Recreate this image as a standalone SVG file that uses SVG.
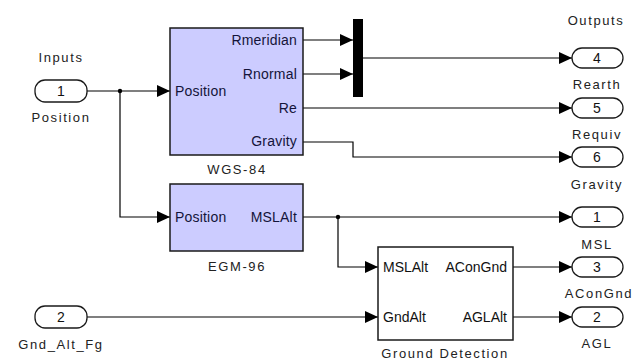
<svg xmlns="http://www.w3.org/2000/svg" width="632" height="363" viewBox="0 0 632 363">
  <style>
    .blk { fill: #ccccff; stroke: #1a1a1a; stroke-width: 1.5; }
    .gd { fill: #ffffff; stroke: #1a1a1a; stroke-width: 1.5; }
    .port { fill: #ffffff; stroke: #1a1a1a; stroke-width: 1.3; }
    .wire { fill: none; stroke: #000; stroke-width: 1.2; }
    .arr { marker-end: url(#head); }
    text { font-family: "Liberation Sans", Arial, sans-serif; font-size: 14px; fill: #111; }
    .in { fill: #14143a; letter-spacing: 0.2px; }
    .num { font-size: 14px; }
    .c { text-anchor: middle; }
    .r { text-anchor: end; }
    .lbl { font-size: 13px; letter-spacing: 1.6px; fill: #222; }
  </style>
  <defs>
    <marker id="head" markerUnits="userSpaceOnUse" markerWidth="14" markerHeight="12" refX="13" refY="6" orient="auto">
      <path d="M0,0 L13,6 L0,12 Z" fill="#000"/>
    </marker>
  </defs>

  <!-- signal lines -->
  <g id="connectors">
    <path class="wire arr" d="M87,91 H170"/>
    <path class="wire arr" d="M120,91 V217 H170"/>
    <circle cx="120" cy="91" r="2.2" fill="#000"/>
    <path class="wire arr" d="M303,40 H353"/>
    <path class="wire arr" d="M303,74 H353"/>
    <path class="wire arr" d="M363,58 H572"/>
    <path class="wire arr" d="M303,108 H572"/>
    <path class="wire arr" d="M303,142 H353 V157 H572"/>
    <path class="wire arr" d="M303,217 H572"/>
    <path class="wire arr" d="M338,217 V267 H378"/>
    <circle cx="338" cy="217" r="2.2" fill="#000"/>
    <path class="wire arr" d="M87,317 H378"/>
    <path class="wire arr" d="M513,267 H572"/>
    <path class="wire arr" d="M513,317 H572"/>
  </g>

  <!-- inports -->
  <g id="in1">
    <text class="c lbl" x="61" y="62">Inputs</text>
    <rect class="port" x="35" y="80" width="52" height="22" rx="10"/>
    <text class="c num" x="61" y="96">1</text>
    <text class="c lbl" x="61" y="122">Position</text>
  </g>
  <g id="in2">
    <rect class="port" x="35" y="306" width="52" height="22" rx="10"/>
    <text class="c num" x="61" y="322">2</text>
    <text class="c lbl" x="61" y="349">Gnd_Alt_Fg</text>
  </g>

  <!-- WGS-84 -->
  <g id="wgs84">
    <rect class="blk" x="170" y="28" width="133" height="127"/>
    <text class="in" x="175" y="96">Position</text>
    <text class="in r" x="297" y="45">Rmeridian</text>
    <text class="in r" x="297" y="79">Rnormal</text>
    <text class="in r" x="297" y="113">Re</text>
    <text class="in r" x="297" y="146">Gravity</text>
    <text class="c lbl" x="237" y="174">WGS-84</text>
  </g>

  <!-- mux -->
  <g id="mux">
    <rect x="353" y="19" width="10" height="78" fill="#000"/>
  </g>

  <!-- EGM-96 -->
  <g id="egm96">
    <rect class="blk" x="170" y="184" width="133" height="67"/>
    <text class="in" x="175" y="222">Position</text>
    <text class="in r" x="297" y="222">MSLAlt</text>
    <text class="c lbl" x="237" y="271">EGM-96</text>
  </g>

  <!-- Ground Detection -->
  <g id="ground-detection">
    <rect class="gd" x="378" y="247" width="135" height="93"/>
    <text x="383" y="272">MSLAlt</text>
    <text class="r" x="507" y="272">AConGnd</text>
    <text x="383" y="322">GndAlt</text>
    <text class="r" x="507" y="322">AGLAlt</text>
    <text class="c lbl" x="445" y="358">Ground Detection</text>
  </g>

  <!-- outports -->
  <g id="out4">
    <text class="c lbl" x="596" y="25">Outputs</text>
    <rect class="port" x="572" y="48" width="51" height="20" rx="10"/>
    <text class="c num" x="597" y="63">4</text>
    <text class="c lbl" x="597" y="89">Rearth</text>
  </g>
  <g id="out5">
    <rect class="port" x="572" y="98" width="51" height="20" rx="10"/>
    <text class="c num" x="597" y="113">5</text>
    <text class="c lbl" x="597" y="139">Requiv</text>
  </g>
  <g id="out6">
    <rect class="port" x="572" y="147" width="51" height="20" rx="10"/>
    <text class="c num" x="597" y="162">6</text>
    <text class="c lbl" x="597" y="189">Gravity</text>
  </g>
  <g id="out1">
    <rect class="port" x="572" y="207" width="51" height="20" rx="10"/>
    <text class="c num" x="597" y="222">1</text>
    <text class="c lbl" x="597" y="249">MSL</text>
  </g>
  <g id="out3">
    <rect class="port" x="572" y="257" width="51" height="20" rx="10"/>
    <text class="c num" x="597" y="272">3</text>
    <text class="c lbl" x="599" y="298">AConGnd</text>
  </g>
  <g id="out2">
    <rect class="port" x="572" y="307" width="51" height="20" rx="10"/>
    <text class="c num" x="597" y="322">2</text>
    <text class="c lbl" x="597" y="348">AGL</text>
  </g>
</svg>
